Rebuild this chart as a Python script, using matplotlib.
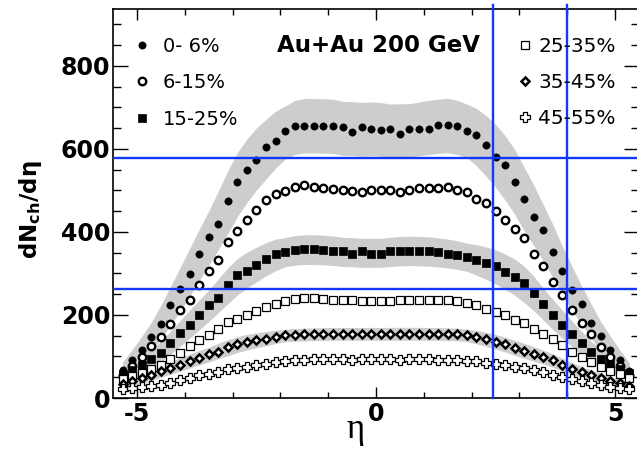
import numpy as np
import matplotlib
matplotlib.use("Agg")
import matplotlib.pyplot as plt
from matplotlib.ticker import MultipleLocator, FixedLocator

plt.rcParams['font.family'] = ['DejaVu Sans']
plt.rcParams['mathtext.fontset'] = 'dejavusans'

# ---------------- data ----------------
eta = [-5.3, -5.1, -4.9, -4.7, -4.5, -4.3, -4.1, -3.9, -3.7, -3.5,
       -3.3, -3.1, -2.9, -2.7, -2.5, -2.3, -2.1, -1.9, -1.7, -1.5,
       -1.3, -1.1, -0.9, -0.7, -0.5, -0.3, -0.1,
       0.1, 0.3, 0.5, 0.7, 0.9, 1.1, 1.3, 1.5, 1.7, 1.9,
       2.1, 2.3, 2.5, 2.7, 2.9, 3.1, 3.3, 3.5, 3.7, 3.9,
       4.1, 4.3, 4.5, 4.7, 4.9, 5.1, 5.3]

c0_6 = [67, 91, 115, 147, 179, 223, 262, 298, 346, 388, 420, 474, 520, 548, 574, 605, 619, 643, 656, 656, 656, 655, 655, 653, 641, 653, 647,
        645, 649, 637, 647, 649, 649, 657, 657, 655, 643, 633, 609, 580, 562, 520, 480, 436, 404, 352, 306, 261, 226, 181, 149, 115, 91, 65]
c6_15 = [55, 77, 98, 125, 147, 179, 211, 237, 272, 305, 333, 376, 402, 428, 454, 476, 492, 499, 508, 512, 508, 505, 504, 502, 499, 495, 502,
         502, 502, 497, 502, 505, 505, 505, 508, 502, 495, 480, 470, 451, 428, 406, 386, 348, 317, 280, 247, 211, 181, 153, 123, 99, 77, 55]
c15_25 = [58, 68, 80, 93, 109, 133, 157, 175, 201, 223, 242, 273, 296, 307, 321, 336, 346, 352, 356, 358, 358, 356, 355, 353, 348, 353, 348,
          348, 353, 355, 353, 355, 353, 351, 348, 345, 340, 332, 326, 317, 304, 292, 277, 252, 226, 200, 177, 155, 132, 111, 93, 81, 69, 61]
c25_35 = [45, 52, 60, 70, 80, 95, 108, 125, 140, 152, 165, 182, 191, 201, 210, 219, 227, 233, 238, 240, 240, 238, 237, 236, 235, 233, 233,
          233, 234, 235, 235, 236, 236, 236, 235, 233, 228, 224, 215, 208, 199, 189, 181, 165, 155, 141, 128, 111, 99, 87, 75, 65, 57, 49]
c35_45 = [34, 40, 47, 56, 64, 72, 80, 90, 96, 105, 112, 122, 129, 135, 139, 143, 147, 152, 152, 153, 153, 155, 154, 155, 154, 155, 154,
          155, 154, 155, 155, 154, 155, 154, 154, 153, 152, 147, 141, 136, 129, 121, 113, 106, 99, 91, 80, 70, 63, 55, 47, 41, 35, 30]
c45_55 = [21, 24, 26, 28, 32, 37, 43, 48, 55, 59, 63, 70, 72, 75, 79, 81, 86, 88, 92, 92, 93, 93, 93, 93, 92, 93, 93,
          93, 93, 92, 93, 93, 93, 92, 92, 91, 90, 88, 85, 81, 79, 75, 72, 67, 62, 56, 50, 45, 41, 37, 31, 27, 25, 22]

# relative systematic error vs |eta| (0.1 ... 5.3)
sys_abs = [0.10, 0.10, 0.10, 0.10, 0.10, 0.10, 0.10, 0.10, 0.10, 0.10,
           0.11, 0.12, 0.13, 0.14, 0.15, 0.16, 0.165, 0.17, 0.18, 0.19,
           0.20, 0.21, 0.22, 0.24, 0.26, 0.28, 0.30]

labels = ['0- 6%', '6-15%', '15-25%', '25-35%', '35-45%', '45-55%']
series = [c0_6, c6_15, c15_25, c25_35, c35_45, c45_55]
has_band = [True, False, True, False, True, False]

title_text = 'Au+Au 200 GeV'
hline_vals = [577, 262]
vline_vals = [2.45, 4.0]
xtick_vals = [-5, 0, 5]
ytick_vals = [0, 200, 400, 600, 800]

# ---------------- styles ----------------
styles = [
    dict(marker='o', ms=5.2, mfc='black', mec='black', mew=0.5),
    dict(marker='o', ms=5.4, mfc='white', mec='black', mew=1.7),
    dict(marker='s', ms=5.6, mfc='black', mec='black', mew=0.5),
    dict(marker='s', ms=6.4, mfc='white', mec='black', mew=0.9),
    dict(marker='D', ms=4.3, mfc='white', mec='black', mew=1.8),
    dict(marker='P', ms=6.8, mfc='white', mec='black', mew=0.9),
]
band_color = '#cdcdcd'
blue = '#1238ff'

fig = plt.figure(figsize=(6.37, 4.49), dpi=100)
ax = fig.add_axes([113 / 637, 51 / 449, 526 / 637, 389 / 449])

x = np.array(eta, dtype=float)
sys_frac = np.array(sys_abs[::-1] + sys_abs)


def smooth(v):
    v = np.asarray(v, dtype=float)
    s = v.copy()
    s[1:-1] = (v[:-2] + v[1:-1] + v[2:]) / 3.0
    return s


for vals, band in zip(series, has_band):
    if band:
        s = smooth(vals)
        ax.fill_between(x, s * (1 - sys_frac), s * (1 + sys_frac),
                        color=band_color, lw=0, zorder=1)

handles = []
for vals, lab, st in zip(series, labels, styles):
    h, = ax.plot(x, vals, ls='none', label=lab, zorder=3, **st)
    handles.append(h)

for yv in hline_vals:
    ax.axhline(yv, color=blue, lw=1.7, zorder=5)
for xv in vline_vals:
    ax.axvline(xv, 0, 1.0103, color=blue, lw=1.7, zorder=5, clip_on=False)

ax.set_xlim(-5.5, 5.5)
ax.set_ylim(0, 937)

ax.set_xticks(xtick_vals, labels=[str(v) for v in xtick_vals],
              fontsize=17, fontweight='bold')
ax.set_yticks(ytick_vals, labels=[str(v) for v in ytick_vals],
              fontsize=17, fontweight='bold')
ax.xaxis.set_minor_locator(MultipleLocator(1))
ax.yaxis.set_minor_locator(MultipleLocator(50))
ax.tick_params(which='both', direction='in', top=True, right=True, width=1.0)
ax.tick_params(axis='x', which='major', length=8, pad=3)
ax.tick_params(axis='x', which='minor', length=4.5)
ax.tick_params(axis='y', which='major', length=10.5, pad=2)
ax.tick_params(axis='y', which='minor', length=6)
for sp in ax.spines.values():
    sp.set_linewidth(1.2)

leg1 = ax.legend(handles[:3], labels[:3], loc='upper left',
                 bbox_to_anchor=(0.036, 0.929), frameon=False, fontsize=14,
                 handlelength=1.0, handletextpad=0.58, labelspacing=0.9,
                 borderpad=0, borderaxespad=0, numpoints=1)
ax.add_artist(leg1)
ax.legend(handles[3:], labels[3:], loc='upper left',
          bbox_to_anchor=(0.7675, 0.929), frameon=False, fontsize=14.5,
          handlelength=0.8, handletextpad=0.27, labelspacing=0.85,
          borderpad=0, borderaxespad=0, numpoints=1)

ax.text(0.504, 0.907, title_text, transform=ax.transAxes, ha='center',
        va='center', fontsize=16.5, fontweight='bold')

fig.text(30 / 637, 1 - 210 / 449, r'$\mathbf{dN_{ch}/d\eta}$', rotation=90,
         ha='center', va='center', fontsize=16.5)
fig.text(356 / 637, 1 - 438 / 449, 'η', ha='center', va='baseline',
         fontsize=25, family=['Liberation Serif', 'DejaVu Serif'])

fig.savefig('out.png', dpi=100)
